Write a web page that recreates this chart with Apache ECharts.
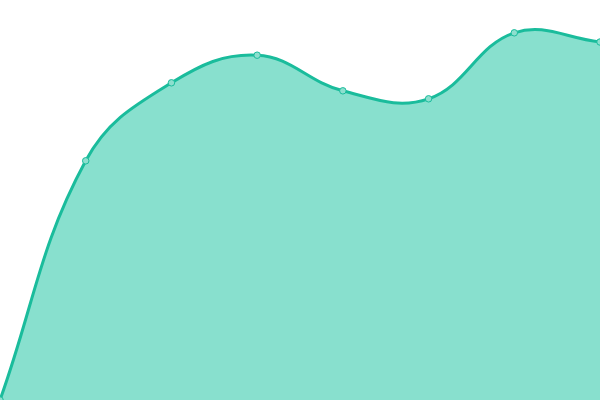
<!DOCTYPE html>
<html>
<head>
<meta charset="utf-8">
<script src="https://cdn.jsdelivr.net/npm/echarts@6/dist/echarts.min.js"></script>
<style>
  html, body { margin: 0; padding: 0; background: #fff; }
  #chart-container { width: 600px; height: 400px; }
</style>
</head>
<body>
<div id="chart-container"></div>
<script>
// 類別與數值
var categories = ['1', '2', '3', '4', '5', '6', '7', '8'];
var values = [0, 59.8, 79.3, 86.2, 77.3, 75.3, 91.8, 89.5];

var lineColor = '#1abc9c';
var areaColor = '#88e0ce';
var tension = 0.4; // 曲線張力 (不限制控制點，允許超出)

var chart = echarts.init(document.getElementById('chart-container'));

// 用座標系換算出的點畫平滑曲線與面積
function renderCurve(params, api) {
    if (params.dataIndex !== 0) return;
    var pts = values.map(function(v, i) { return api.coord([i, v]); });
    var n = pts.length;
    var cpPrev = [], cpNext = [];
    for (var i = 0; i < n; i++) {
        var cur = pts[i];
        var prev = pts[i - 1] || cur;
        var next = pts[i + 1] || cur;
        var d01 = Math.hypot(cur[0] - prev[0], cur[1] - prev[1]);
        var d12 = Math.hypot(next[0] - cur[0], next[1] - cur[1]);
        var sum = d01 + d12 || 1;
        var fa = tension * d01 / sum;
        var fb = tension * d12 / sum;
        var vx = next[0] - prev[0], vy = next[1] - prev[1];
        cpPrev.push([cur[0] - fa * vx, cur[1] - fa * vy]);
        cpNext.push([cur[0] + fb * vx, cur[1] + fb * vy]);
    }
    var d = 'M' + pts[0][0] + ' ' + pts[0][1];
    for (var j = 1; j < n; j++) {
        d += ' C' + cpNext[j - 1][0] + ' ' + cpNext[j - 1][1] + ' '
            + cpPrev[j][0] + ' ' + cpPrev[j][1] + ' ' + pts[j][0] + ' ' + pts[j][1];
    }
    var base0 = api.coord([0, 0]);
    var base1 = api.coord([n - 1, 0]);
    var area = d + ' L' + base1[0] + ' ' + base1[1] + ' L' + base0[0] + ' ' + base0[1] + ' Z';
    return {
        type: 'group',
        children: [
            { type: 'path', shape: { pathData: area }, style: { fill: areaColor, stroke: null } },
            { type: 'path', shape: { pathData: d }, style: { fill: null, stroke: lineColor, lineWidth: 3 } }
        ]
    };
}

var option = {
    animation: false,
    grid: { left: 0, right: 0, top: 0, bottom: 0 },
    xAxis: {
        type: 'category',
        boundaryGap: false,
        show: false,
        data: categories
    },
    yAxis: {
        type: 'value',
        min: 0,
        max: 100,
        show: false
    },
    series: [{
            type: 'custom',
            renderItem: renderCurve,
            clip: false,
            data: values.map(function(v, i) { return [i, v]; })
        },
        {
            type: 'scatter',
            data: values,
            symbol: 'circle',
            symbolSize: 6.5,
            z: 5,
            itemStyle: { color: '#8ddfce', borderColor: lineColor, borderWidth: 1, opacity: 1 }
        }
    ]
};

chart.setOption(option);
</script>
</body>
</html>
